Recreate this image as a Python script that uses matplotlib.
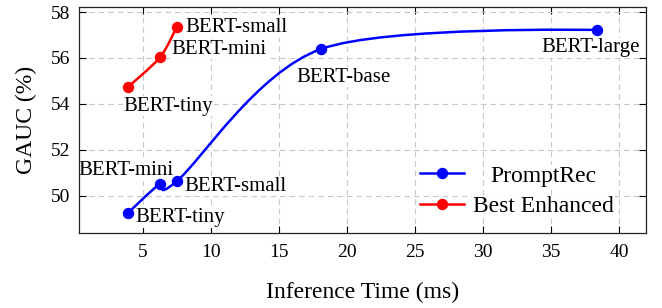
import matplotlib
matplotlib.use("Agg")
import matplotlib.pyplot as plt
from matplotlib.path import Path
from matplotlib.patches import PathPatch
from matplotlib.lines import Line2D

# ---- data ----
models = ["BERT-tiny", "BERT-mini", "BERT-small", "BERT-base", "BERT-large"]
prompt_time = [3.9, 6.28, 7.5, 18.1, 38.4]
prompt_gauc = [49.23, 50.52, 50.63, 56.39, 57.22]

enh_models = ["BERT-tiny", "BERT-mini", "BERT-small"]
enh_time = [3.9, 6.28, 7.5]
enh_gauc = [54.73, 56.03, 57.36]

xticks = [5, 10, 15, 20, 25, 30, 35, 40]
yticks = [50, 52, 54, 56, 58]

BLUE = "#0000ff"
RED = "#ff0000"

plt.rcParams["font.family"] = ["Liberation Serif", "DejaVu Serif"]

fig = plt.figure(figsize=(6.62, 3.08), dpi=100)
ax = fig.add_axes([79 / 662, 75 / 308, 567 / 662, 226 / 308])


def smooth_path(xs, ys, tension=0.55):
    k = tension * 0.2775
    pts = list(zip(xs, ys))
    n = len(pts)
    verts = [pts[0]]
    codes = [Path.MOVETO]
    for i in range(n - 1):
        p0 = pts[i]
        p1 = pts[i + 1]
        prev = pts[i - 1] if i > 0 else p0
        nxt = pts[i + 2] if i + 2 < n else p1
        if i > 0:
            c1 = (p0[0] + k * (p1[0] - prev[0]), p0[1] + k * (p1[1] - prev[1]))
        else:
            c1 = p0
        if i + 2 < n:
            c2 = (p1[0] - k * (nxt[0] - p0[0]), p1[1] - k * (nxt[1] - p0[1]))
        else:
            c2 = p1
        verts += [c1, c2, p1]
        codes += [Path.CURVE4] * 3
    return Path(verts, codes)


lw = 1.8
ms = 7.2
for xs, ys, col in [(prompt_time, prompt_gauc, BLUE), (enh_time, enh_gauc, RED)]:
    patch = PathPatch(smooth_path(xs, ys), facecolor="none", edgecolor=col,
                      lw=lw, zorder=3, capstyle="round", joinstyle="round")
    ax.add_patch(patch)
    ax.plot(xs, ys, "o", color=col, ms=ms, zorder=4)

ax.set_xlim(0.33, 41.97)
ax.set_ylim(48.38, 58.22)
ax.set_xticks(xticks)
ax.set_yticks(yticks)
ax.tick_params(direction="in", length=5, width=0.8, top=True, right=True,
               labelsize=14, colors="black")
ax.tick_params(axis="x", pad=8)
ax.tick_params(axis="y", pad=6)
ax.grid(True, color="#c8c8c8", linestyle=(0, (5, 3.6)), linewidth=0.8, zorder=0)
ax.set_axisbelow(True)
for s in ax.spines.values():
    s.set_linewidth(0.9)
    s.set_color("#222222")

ax.set_xlabel("Inference Time (ms)", fontsize=17, labelpad=15)
ax.set_ylabel("GAUC (%)", fontsize=17, labelpad=10)

fs = 15
box = dict(facecolor="white", edgecolor="none", pad=0.5)
# labels for PromptRec points (offsets in pixels)
p_offsets = [(8, -4, "left"), (13, 13, "right"), (8, -5, "left"),
             (-25, -28, "left"), (-7, -18, "center")]
for name, x, y, (dx, dy, ha) in zip(models, prompt_time, prompt_gauc, p_offsets):
    ax.annotate(name, (x, y), xytext=(dx, dy), textcoords="offset pixels",
                ha=ha, va="center", fontsize=fs, zorder=2.5, bbox=box)

e_offsets = [(-4, -19, "left"), (11, 8, "left"), (9, -1, "left")]
for name, x, y, (dx, dy, ha) in zip(enh_models, enh_time, enh_gauc, e_offsets):
    ax.annotate(name, (x, y), xytext=(dx, dy), textcoords="offset pixels",
                ha=ha, va="center", fontsize=fs, zorder=2.5, bbox=box)

handles = [Line2D([], [], color=BLUE, lw=lw, marker="o", ms=ms),
           Line2D([], [], color=RED, lw=lw, marker="o", ms=ms)]
leg = ax.legend(handles, ["PromptRec", "Best Enhanced"], loc="upper left",
                bbox_to_anchor=((420 - 79) / 567, (233 - 165) / 226),
                frameon=False, fontsize=17, handlelength=1.85,
                handletextpad=0.4, labelspacing=0.39, borderpad=0,
                borderaxespad=0)
for t in leg.get_texts():
    t.set_bbox(dict(facecolor="white", edgecolor="none", pad=0.5))

# center the first legend label over the second (as in a centred legend cell)
fig.canvas.draw()
r = fig.canvas.get_renderer()
w0 = leg.get_texts()[0].get_window_extent(r).width
w1 = leg.get_texts()[1].get_window_extent(r).width
try:
    row0 = leg._legend_handle_box.get_children()[0].get_children()[0]
    row0.sep += (w1 - w0) / 2 / r.points_to_pixels(1.0)
except Exception:
    pass

fig.savefig("out.png", dpi=100)
